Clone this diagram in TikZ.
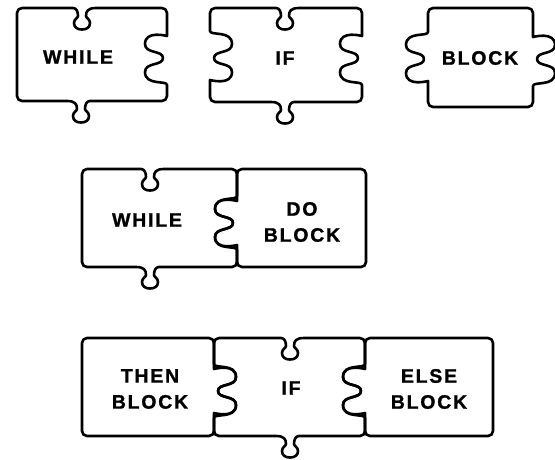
\documentclass[tikz,border=0pt]{standalone}
\usepackage{fontspec}
\newfontfamily\lblfont{Liberation Sans}[LetterSpace=9,FakeBold=1.2]
\begin{document}
\begin{tikzpicture}[x=1pt,y=-1pt]
\def\dep{22}
\tikzset{
  piece/.style={draw=black, line width=2.6pt, rounded corners=5pt, line join=round},
  lbl/.style={font=\lblfont\bfseries\fontsize{19.5}{26}\selectfont, align=center, inner sep=0pt},
  % double lobe along a vertical edge:
  % #1 x of edge, #2 centre y, #3 side of the lobes (+1 right, -1 left), #4 +1 downwards, -1 upwards
  wig/.style n args={4}{insert path={
    -- ({#1},{#2-(#4)*27}) [sharp corners]
    .. controls ({#1},{#2-(#4)*22}) and ({#1+(#3)*\dep},{#2-(#4)*28}) .. ({#1+(#3)*\dep},{#2-(#4)*14})
    .. controls ({#1+(#3)*\dep},{#2-(#4)*4}) and ({#1+(#3)*4},{#2-(#4)*8}) .. ({#1+(#3)*4},{#2})
    .. controls ({#1+(#3)*4},{#2+(#4)*8}) and ({#1+(#3)*\dep},{#2+(#4)*4}) .. ({#1+(#3)*\dep},{#2+(#4)*14})
    .. controls ({#1+(#3)*\dep},{#2+(#4)*28}) and ({#1},{#2+(#4)*22}) .. ({#1},{#2+(#4)*27})
    [rounded corners=5pt]
  }},
  % keyhole notch or tab along a horizontal edge:
  % #1 centre x, #2 y of edge, #3 +1 downwards, -1 upwards, #4 +1 rightwards, -1 leftwards
  notch/.style n args={4}{insert path={
    -- ({#1-(#4)*14},{#2}) [sharp corners]
    .. controls ({#1-(#4)*6},{#2}) and ({#1-(#4)*4},{#2+(#3)*3}) .. ({#1-(#4)*4},{#2+(#3)*8})
    .. controls ({#1-(#4)*4},{#2+(#3)*10}) and ({#1-(#4)*8},{#2+(#3)*11}) .. ({#1-(#4)*8},{#2+(#3)*15})
    .. controls ({#1-(#4)*8},{#2+(#3)*19.5}) and ({#1-(#4)*4.5},{#2+(#3)*21.5}) .. ({#1},{#2+(#3)*21.5})
    .. controls ({#1+(#4)*4.5},{#2+(#3)*21.5}) and ({#1+(#4)*8},{#2+(#3)*19.5}) .. ({#1+(#4)*8},{#2+(#3)*15})
    .. controls ({#1+(#4)*8},{#2+(#3)*11}) and ({#1+(#4)*4},{#2+(#3)*10}) .. ({#1+(#4)*4},{#2+(#3)*8})
    .. controls ({#1+(#4)*4},{#2+(#3)*3}) and ({#1+(#4)*6},{#2}) .. ({#1+(#4)*14},{#2})
    [rounded corners=5pt]
  }}
}
\useasboundingbox (0,0) rectangle (555,459);

% top row: three single pieces
\draw[piece] (40,8) [notch={82}{8}{1}{1}] -- (167,8) [wig={167}{58}{-1}{1}]
  -- (167,101) [notch={81}{101}{1}{-1}] -- (17,101) -- (17,8) -- cycle;
\draw[piece] (235,8) [notch={285}{8}{1}{1}] -- (362,8) [wig={362}{58}{-1}{1}]
  -- (362,102) [notch={285}{102}{1}{-1}] -- (210,102) [wig={210}{58}{1}{-1}] -- (210,8) -- cycle;
\draw[piece] (450,8) -- (533,8) [wig={533}{59}{1}{1}] -- (533,107)
  -- (428,107) [wig={428}{59}{-1}{-1}] -- (428,8) -- cycle;
\node[lbl] (while1) at (78,57) {WHILE};
\node[lbl] (if1) at (285,58) {IF};
\node[lbl] (block1) at (480,58) {BLOCK};

% middle row: while loop with its body
\draw[piece] (110,169) [notch={150}{169}{1}{1}] -- (237,169) [wig={237}{223}{-1}{1}]
  -- (237,267) [notch={150}{267}{1}{-1}] -- (82,267) -- (82,169) -- cycle;
\draw[piece] (260,169) -- (366,169) -- (366,267) -- (237,267) [wig={237}{223}{-1}{-1}]
  -- (237,169) -- cycle;
\node[lbl] (while2) at (147,220) {WHILE};
\node[lbl] (doblock) at (302,222) {DO\\BLOCK};

% bottom row: if with both branches
\draw[piece] (110,338) -- (214,338) [wig={214}{391}{1}{1}] -- (214,436) -- (82,436)
  -- (82,338) -- cycle;
\draw[piece] (240,338) [notch={290}{338}{1}{1}] -- (365,338) [wig={365}{391}{-1}{1}]
  -- (365,436) [notch={290}{436}{1}{-1}] -- (214,436) [wig={214}{391}{1}{-1}] -- (214,338) -- cycle;
\draw[piece] (390,338) -- (493,338) -- (493,436) -- (365,436) [wig={365}{391}{-1}{-1}]
  -- (365,338) -- cycle;
\node[lbl] (then) at (150,389) {THEN\\BLOCK};
\node[lbl] (if2) at (291,388) {IF};
\node[lbl] (else) at (429,389) {ELSE\\BLOCK};
\end{tikzpicture}
\end{document}
